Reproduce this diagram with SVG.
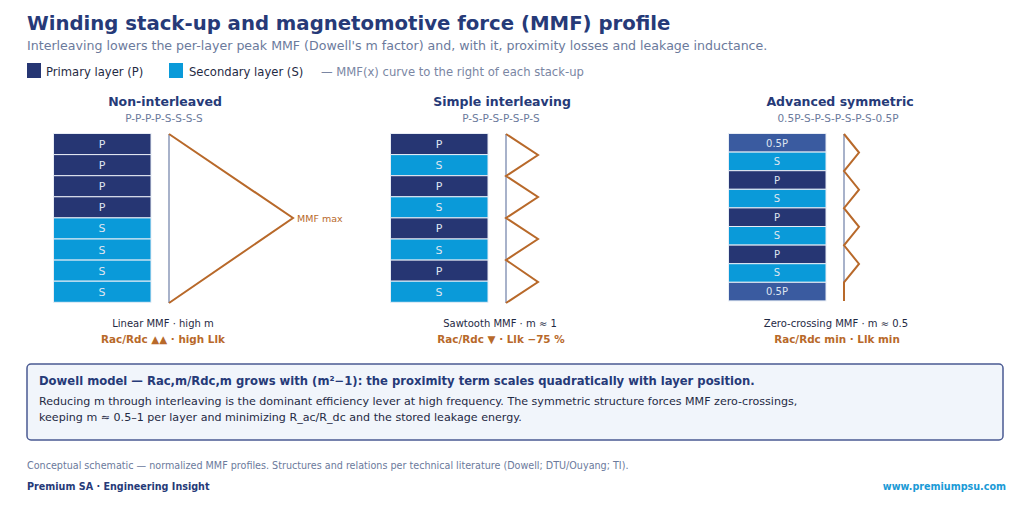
<svg xmlns="http://www.w3.org/2000/svg" width="1030" height="506" viewBox="0 0 1030 506">
<style>
text{font-family:"DejaVu Sans","Liberation Sans",sans-serif}
.title{font-size:19.7px;font-weight:bold;fill:#263a78}
.sub{font-size:12.6px;fill:#6b7a9c}
.leg{font-size:11.6px;fill:#1f2a44}
.legg{font-size:11.6px;fill:#7a86a3}
.ht{font-size:12.5px;font-weight:bold;fill:#263a78;text-anchor:middle}
.hs{font-size:10.5px;fill:#6b7a9c;text-anchor:middle}
.lay{stroke:#e8edf5;stroke-width:1}
.P{fill:#263673}.S{fill:#0a9ad9}.H{fill:#3a5ba0}
.lt{font-size:11px;fill:#dfe5f0;text-anchor:middle}
.ax{stroke:#8b98b8;stroke-width:1.5;fill:none}
.mmf{stroke:#b8692a;stroke-width:2;fill:none;stroke-linejoin:miter}
.cap{font-size:10px;fill:#1f2a44;text-anchor:middle}
.res{font-size:10.4px;font-weight:bold;fill:#b8692a;text-anchor:middle}
.bt{font-size:11.6px;font-weight:bold;fill:#263a78}
.bb{font-size:11.1px;fill:#1f2a44}
.foot{font-size:9.6px;fill:#6b7a9c}
.brand{font-size:9.6px;font-weight:bold;fill:#263a78}
.url{font-size:9.6px;font-weight:bold;fill:#1a9ad6;text-anchor:end}
</style>
<rect width="1030" height="506" fill="#ffffff"/>
<g id="header">
<text class="title" x="27" y="30">Winding stack-up and magnetomotive force (MMF) profile</text>
<text class="sub" x="27" y="50">Interleaving lowers the per-layer peak MMF (Dowell's m factor) and, with it, proximity losses and leakage inductance.</text>
</g>
<g id="legend">
<rect x="27" y="63" width="14" height="15" class="P"/>
<text class="leg" x="46" y="75.5">Primary layer (P)</text>
<rect x="169" y="63" width="14" height="15" class="S"/>
<text class="leg" x="189" y="75.5">Secondary layer (S)</text>
<text class="legg" x="321" y="75.5">— MMF(x) curve to the right of each stack-up</text>
</g>
<g id="non-interleaved">
<text class="ht" x="165" y="106">Non-interleaved</text>
<text class="hs" x="164" y="121.5">P-P-P-P-S-S-S-S</text>
<rect class="lay P" x="53.5" y="133.5" width="97.5" height="21.1"/>
<rect class="lay P" x="53.5" y="154.6" width="97.5" height="21.1"/>
<rect class="lay P" x="53.5" y="175.7" width="97.5" height="21.1"/>
<rect class="lay P" x="53.5" y="196.8" width="97.5" height="21.1"/>
<rect class="lay S" x="53.5" y="217.9" width="97.5" height="21.1"/>
<rect class="lay S" x="53.5" y="239" width="97.5" height="21.1"/>
<rect class="lay S" x="53.5" y="260.1" width="97.5" height="21.1"/>
<rect class="lay S" x="53.5" y="281.2" width="97.5" height="21.1"/>
<text class="lt" x="102" y="148">P</text>
<text class="lt" x="102" y="169">P</text>
<text class="lt" x="102" y="190">P</text>
<text class="lt" x="102" y="211">P</text>
<text class="lt" x="102" y="232">S</text>
<text class="lt" x="102" y="253.5">S</text>
<text class="lt" x="102" y="274.5">S</text>
<text class="lt" x="102" y="295.5">S</text>
<line class="ax" x1="169" y1="134" x2="169" y2="303"/>
<polyline class="mmf" points="169,134 293,218 169,303"/>
<text x="297" y="221.5" style="font-size:9.5px;fill:#b8692a">MMF max</text>
<text class="cap" x="163" y="327">Linear MMF · high m</text>
<text class="res" x="163" y="343">Rac/Rdc ▲▲ · high Llk</text>
</g>
<g id="simple-interleaving">
<text class="ht" x="502" y="106">Simple interleaving</text>
<text class="hs" x="501" y="121.5">P-S-P-S-P-S-P-S</text>
<rect class="lay P" x="390.5" y="133.5" width="97.5" height="21.1"/>
<rect class="lay S" x="390.5" y="154.6" width="97.5" height="21.1"/>
<rect class="lay P" x="390.5" y="175.7" width="97.5" height="21.1"/>
<rect class="lay S" x="390.5" y="196.8" width="97.5" height="21.1"/>
<rect class="lay P" x="390.5" y="217.9" width="97.5" height="21.1"/>
<rect class="lay S" x="390.5" y="239" width="97.5" height="21.1"/>
<rect class="lay P" x="390.5" y="260.1" width="97.5" height="21.1"/>
<rect class="lay S" x="390.5" y="281.2" width="97.5" height="21.1"/>
<text class="lt" x="439" y="148">P</text>
<text class="lt" x="439" y="169">S</text>
<text class="lt" x="439" y="190">P</text>
<text class="lt" x="439" y="211">S</text>
<text class="lt" x="439" y="232">P</text>
<text class="lt" x="439" y="253.5">S</text>
<text class="lt" x="439" y="274.5">P</text>
<text class="lt" x="439" y="295.5">S</text>
<line class="ax" x1="506" y1="134" x2="506" y2="303"/>
<polyline class="mmf" points="506,134 538,155 506,176 538,197 506,218 538,239 506,260 538,282 506,303"/>
<text class="cap" x="500" y="327">Sawtooth MMF · m ≈ 1</text>
<text class="res" x="501" y="343">Rac/Rdc ▼ · Llk −75 %</text>
</g>
<g id="advanced-symmetric">
<text class="ht" x="840" y="106">Advanced symmetric</text>
<text class="hs" x="838" y="121.5">0.5P-S-P-S-P-S-P-S-0.5P</text>
<rect class="lay H" x="728.5" y="133.5" width="97.5" height="18.6"/>
<rect class="lay S" x="728.5" y="152.1" width="97.5" height="18.6"/>
<rect class="lay P" x="728.5" y="170.7" width="97.5" height="18.6"/>
<rect class="lay S" x="728.5" y="189.3" width="97.5" height="18.6"/>
<rect class="lay P" x="728.5" y="207.9" width="97.5" height="18.6"/>
<rect class="lay S" x="728.5" y="226.5" width="97.5" height="18.6"/>
<rect class="lay P" x="728.5" y="245.1" width="97.5" height="18.6"/>
<rect class="lay S" x="728.5" y="263.7" width="97.5" height="18.6"/>
<rect class="lay H" x="728.5" y="282.3" width="97.5" height="18.6"/>
<text class="lt" x="777" y="146.5" style="font-size:10px">0.5P</text>
<text class="lt" x="777" y="165" style="font-size:10px">S</text>
<text class="lt" x="777" y="183.5" style="font-size:10px">P</text>
<text class="lt" x="777" y="202" style="font-size:10px">S</text>
<text class="lt" x="777" y="220.5" style="font-size:10px">P</text>
<text class="lt" x="777" y="239" style="font-size:10px">S</text>
<text class="lt" x="777" y="257.5" style="font-size:10px">P</text>
<text class="lt" x="777" y="276" style="font-size:10px">S</text>
<text class="lt" x="777" y="295" style="font-size:10px">0.5P</text>
<line class="ax" x1="844" y1="134" x2="844" y2="301"/>
<polyline class="mmf" points="844,134 859,152.6 844,171.1 859,189.7 844,208.2 859,226.8 844,245.3 859,263.9 844,282.4 844,301"/>
<text class="cap" x="836" y="327">Zero-crossing MMF · m ≈ 0.5</text>
<text class="res" x="837" y="343">Rac/Rdc min · Llk min</text>
</g>
<g id="dowell-box">
<rect x="27" y="364" width="976" height="76" rx="4" fill="#f1f5fb" stroke="#4a5a92" stroke-width="1.5"/>
<text class="bt" x="39" y="385">Dowell model — Rac,m/Rdc,m grows with (m²−1): the proximity term scales quadratically with layer position.</text>
<text class="bb" x="39" y="405">Reducing m through interleaving is the dominant efficiency lever at high frequency. The symmetric structure forces MMF zero-crossings,</text>
<text class="bb" x="39" y="421">keeping m ≈ 0.5–1 per layer and minimizing R_ac/R_dc and the stored leakage energy.</text>
</g>
<g id="footer">
<text class="foot" x="27" y="469">Conceptual schematic — normalized MMF profiles. Structures and relations per technical literature (Dowell; DTU/Ouyang; TI).</text>
<text class="brand" x="27" y="490">Premium SA · Engineering Insight</text>
<text class="url" x="1006" y="490">www.premiumpsu.com</text>
</g>
</svg>
